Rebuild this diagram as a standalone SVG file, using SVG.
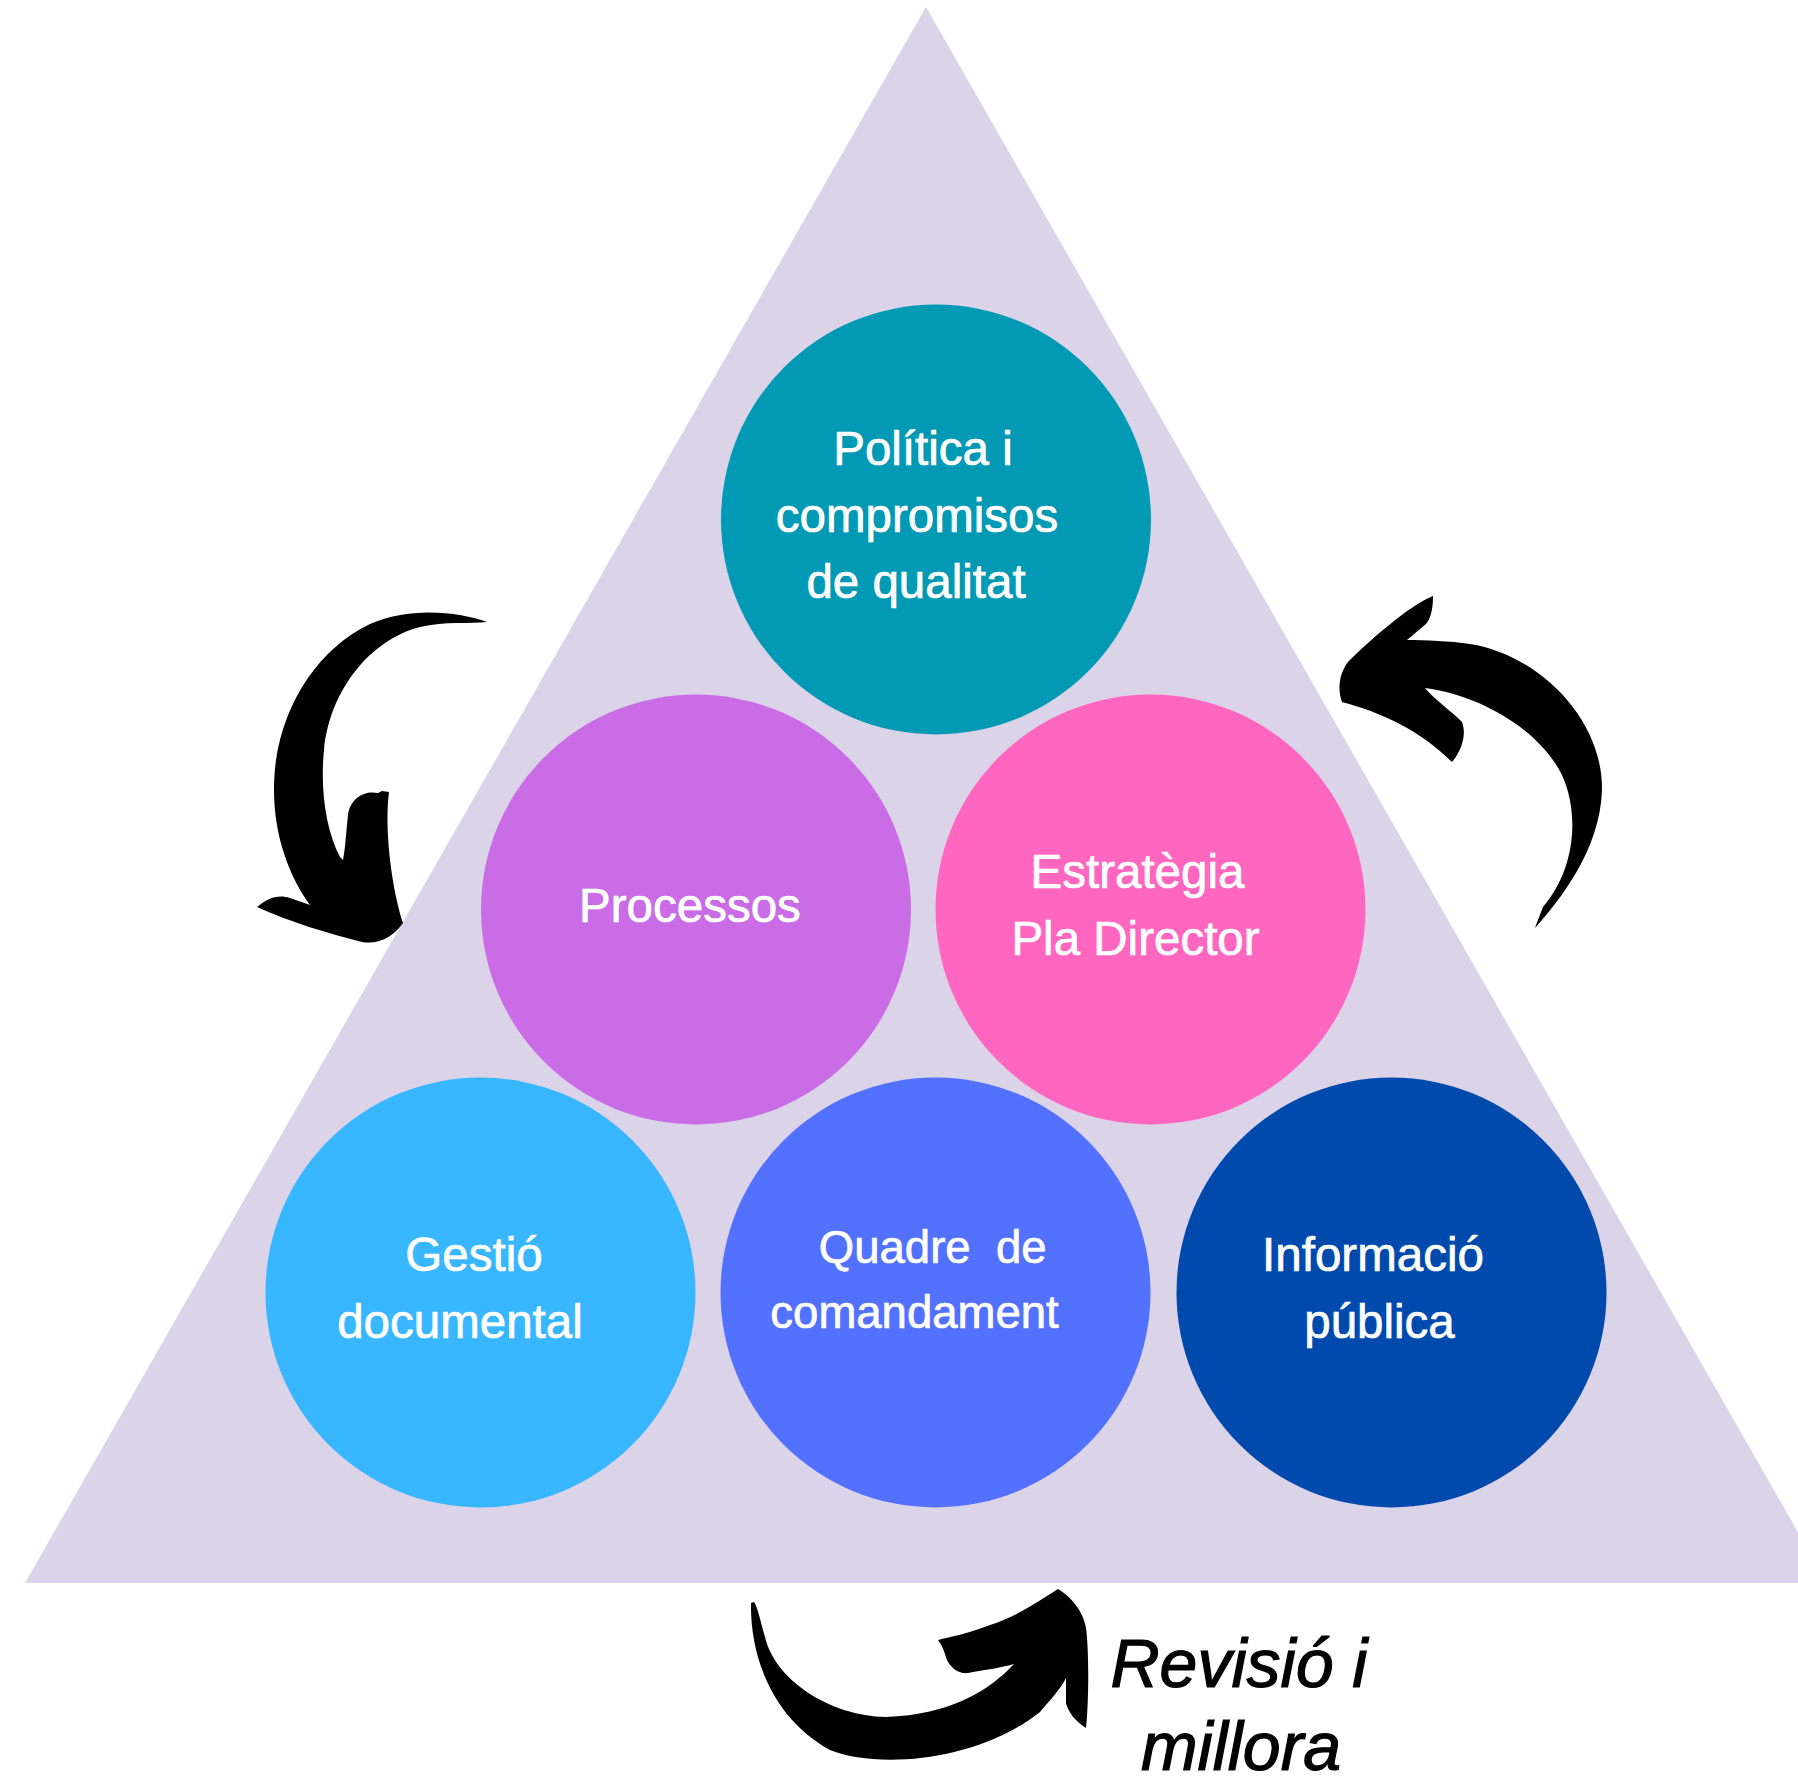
<svg xmlns="http://www.w3.org/2000/svg" width="1798" height="1786" viewBox="0 0 1798 1786">
<style>
.lbl{font-family:"Liberation Sans",Arial,sans-serif;font-size:47.5px;fill:#ffffff;stroke:#ffffff;stroke-width:0.7px;text-anchor:middle}
.arrow{fill:#000000}
.cap{font-family:"Liberation Sans",Arial,sans-serif;font-size:68px;font-style:italic;fill:#000000;stroke:#000000;stroke-width:1.2px;text-anchor:middle}
</style>
<rect width="1798" height="1786" fill="#ffffff"/>
<polygon id="triangle" points="926,7 25,1583 1827,1583" fill="#dbd3e8"/>
<g id="node-politica">
<circle cx="936" cy="519.5" r="215" fill="#0299b4"/>
<text class="lbl" x="923" y="465">Política i</text>
<text class="lbl" x="917" y="532">compromisos</text>
<text class="lbl" x="916" y="598">de qualitat</text>
</g>
<g id="node-processos">
<circle cx="696" cy="909.5" r="215" fill="#c96ce6"/>
<text class="lbl" x="690" y="922">Processos</text>
</g>
<g id="node-estrategia">
<circle cx="1150.5" cy="909.5" r="215" fill="#ff66c0"/>
<text class="lbl" x="1137.5" y="888">Estratègia</text>
<text class="lbl" x="1135.5" y="955">Pla Director</text>
</g>
<g id="node-gestio">
<circle cx="480.5" cy="1292.5" r="215" fill="#38b6ff"/>
<text class="lbl" x="474" y="1271">Gestió</text>
<text class="lbl" x="460" y="1338">documental</text>
</g>
<g id="node-quadre">
<circle cx="935.5" cy="1292.5" r="215" fill="#5271ff"/>
<text class="lbl" style="font-size:45.5px" x="932.7" y="1263" xml:space="preserve">Quadre  de</text>
<text class="lbl" style="font-size:45.5px" x="914.5" y="1328">comandament</text>
</g>
<g id="node-informacio">
<circle cx="1391.5" cy="1292.5" r="215" fill="#004aad"/>
<text class="lbl" x="1373" y="1271">Informació</text>
<text class="lbl" x="1379.5" y="1338">pública</text>
</g>
<g id="connectors">
<path class="arrow" d="M 487 622 C 460 612, 410 606, 370 624 C 320 648, 285 700, 276 760 C 268 820, 285 870, 310 905 L 290 898 C 278 894, 268 898, 257 907 C 290 922, 330 934, 362 942 C 380 945, 395 935, 403 923 C 392 890, 384 830, 389 792 L 382 791 L 378 793 C 365 790, 350 798, 348 815 C 346 835, 345 850, 343 860 L 340 857 C 326 830, 320 790, 324 750 C 330 690, 370 640, 420 627 C 445 621, 470 624, 487 622 Z"/>
<path class="arrow" d="M 1535 928 C 1560 900, 1600 850, 1602 790 C 1603 720, 1540 655, 1470 644 C 1450 641, 1425 640, 1407 640 L 1426 624 C 1432 617, 1433 605, 1433 596 C 1410 605, 1370 640, 1348 662 C 1338 675, 1338 692, 1342 702 C 1380 712, 1420 730, 1452 762 C 1458 755, 1468 738, 1462 722 C 1450 710, 1435 700, 1425 688 C 1480 695, 1540 730, 1562 775 C 1580 815, 1575 870, 1543 907 C 1540 915, 1537 922, 1535 928 Z"/>
<path class="arrow" d="M 751 1603 C 750 1660, 775 1720, 830 1750 C 880 1770, 980 1760, 1040 1712 C 1050 1700, 1060 1690, 1066 1678 L 1066 1703 C 1068 1712, 1076 1722, 1086 1728 C 1089 1700, 1089 1650, 1086 1628 C 1083 1610, 1070 1596, 1058 1589 C 1040 1600, 1020 1615, 990 1625 C 970 1633, 950 1637, 938 1640 C 944 1648, 945 1655, 947 1660 C 952 1670, 960 1674, 968 1673 C 990 1669, 1005 1667, 1014 1664 C 990 1690, 950 1715, 886 1717 C 830 1716, 775 1680, 765 1637 C 760 1620, 758 1608, 754 1602 Z"/>
</g>
<g id="caption">
<text class="cap" x="1239" y="1687">Revisió i</text>
<text class="cap" x="1241" y="1770">millora</text>
</g>
</svg>
